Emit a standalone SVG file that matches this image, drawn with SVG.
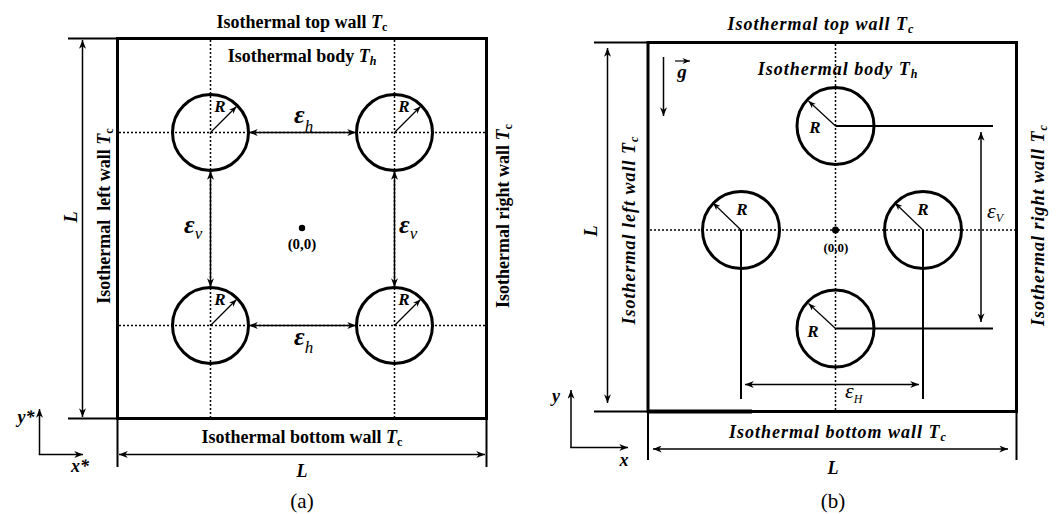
<svg xmlns="http://www.w3.org/2000/svg" width="1057" height="514" viewBox="0 0 1057 514">
<style>
  text { font-family: "Liberation Serif", "Times New Roman", serif; fill: #000; }
  .ta { font-size: 18px; font-weight: bold; text-anchor: middle; }
  .tb { font-size: 18px; font-weight: bold; font-style: italic; text-anchor: middle; letter-spacing: 1px; }
  .it { font-style: italic; }
  .sub { font-size: 12px; }
  .lab { font-size: 18px; font-weight: bold; font-style: italic; text-anchor: middle; }
  .rl { font-size: 17px; font-weight: bold; font-style: italic; text-anchor: middle; }
  .eps { font-size: 26px; font-weight: bold; font-style: italic; }
  .epsb { font-size: 22px; font-style: italic; }
  .cap { font-size: 21px; text-anchor: middle; }
  .wall { fill: none; stroke: #000; stroke-width: 3; }
  .ext { fill: none; stroke: #000; stroke-width: 2; }
  .dim { fill: none; stroke: #000; stroke-width: 1.5; }
  .dot { fill: none; stroke: #000; stroke-width: 1.5; stroke-dasharray: 2 2; }
  .cyl { fill: none; stroke: #000; stroke-width: 3; }
  .rad { fill: none; stroke: #000; stroke-width: 1.2; }
  .ref { fill: none; stroke: #000; stroke-width: 2; }
</style>
<defs>
  <marker id="ah" viewBox="0 0 10 8" refX="10" refY="4" markerWidth="9" markerHeight="7" markerUnits="userSpaceOnUse" orient="auto-start-reverse">
    <path d="M0,0 L10,4 L0,8 L3,4 z" fill="#000"/>
  </marker>
  <marker id="ahs" viewBox="0 0 10 8" refX="10" refY="4" markerWidth="8" markerHeight="6" markerUnits="userSpaceOnUse" orient="auto-start-reverse">
    <path d="M0,0 L10,4 L0,8 L3,4 z" fill="#000"/>
  </marker>
</defs>
<rect width="1057" height="514" fill="#fff"/>

<!-- ================= Panel (a) ================= -->
<g id="a-enclosure">
  <rect class="wall" x="117.5" y="38.5" width="369" height="380"/>
  <text class="ta" x="302" y="28">Isothermal top wall <tspan class="it">T</tspan><tspan class="sub" dy="3">c</tspan></text>
  <text class="ta" x="302" y="443">Isothermal bottom wall <tspan class="it">T</tspan><tspan class="sub" dy="3">c</tspan></text>
  <text class="ta" transform="translate(110,216) rotate(-90)" xml:space="preserve">Isothermal  left wall <tspan class="it">T</tspan><tspan class="sub" dy="3">c</tspan></text>
  <text class="ta" transform="translate(509,216) rotate(-90)">Isothermal right wall <tspan class="it">T</tspan><tspan class="sub" dy="3">c</tspan></text>
  <text class="ta" x="302" y="62">Isothermal body <tspan class="it">T</tspan><tspan class="sub it" dy="3">h</tspan></text>
</g>
<g id="a-guides">
  <line class="dot" x1="210.5" y1="40" x2="210.5" y2="417"/>
  <line class="dot" x1="394.5" y1="40" x2="394.5" y2="417"/>
  <line class="dot" x1="119" y1="132.5" x2="485" y2="132.5"/>
  <line class="dot" x1="119" y1="325.5" x2="485" y2="325.5"/>
</g>
<g id="a-cyl-tl">
  <circle class="cyl" cx="210.5" cy="132.5" r="38"/>
  <text class="rl" x="220" y="112">R</text>
</g>
<g id="a-cyl-tr">
  <circle class="cyl" cx="394.5" cy="132.5" r="38"/>
  <text class="rl" x="404" y="112">R</text>
</g>
<g id="a-cyl-bl">
  <circle class="cyl" cx="210.5" cy="325.5" r="38"/>
  <text class="rl" x="220" y="305">R</text>
</g>
<g id="a-cyl-br">
  <circle class="cyl" cx="394.5" cy="325.5" r="38"/>
  <text class="rl" x="404" y="305">R</text>
</g>
<g id="a-origin">
  <circle cx="302" cy="228" r="3.2" fill="#000"/>
  <text x="302" y="249" font-size="15" font-weight="bold" text-anchor="middle">(0,0)</text>
</g>
<g id="a-labels">
  <text class="eps" x="294" y="123">ε<tspan class="it" font-size="17" font-weight="normal" dy="9">h</tspan></text>
  <text class="eps" x="294" y="345">ε<tspan class="it" font-size="17" font-weight="normal" dy="8">h</tspan></text>
  <text class="eps" x="184" y="233">ε<tspan class="it" font-size="17" font-weight="normal" dy="6">v</tspan></text>
  <text class="eps" x="399" y="233">ε<tspan class="it" font-size="17" font-weight="normal" dy="6">v</tspan></text>
  <text class="lab" transform="translate(77,217) rotate(-90)">L</text>
  <text class="lab" x="302" y="477">L</text>
  <text class="lab" x="26" y="423">y*</text>
  <text class="lab" x="80" y="472">x*</text>
  <text class="cap" x="302" y="508">(a)</text>
</g>

<!-- ================= Panel (b) ================= -->
<g id="b-enclosure">
  <rect class="wall" x="648" y="42.5" width="368.5" height="369"/>
  <line x1="648" y1="411.5" x2="752" y2="411.5" stroke="#000" stroke-width="4"/>
  <text class="tb" x="821" y="30">Isothermal top wall T<tspan class="sub" dy="3">c</tspan></text>
  <text class="tb" x="838" y="438">Isothermal bottom wall T<tspan class="sub" dy="3">c</tspan></text>
  <text class="tb" transform="translate(635,230) rotate(-90)">Isothermal left wall T<tspan class="sub" dy="3">c</tspan></text>
  <text class="tb" transform="translate(1044,225) rotate(-90)">Isothermal right wall T<tspan class="sub" dy="3">c</tspan></text>
  <text class="tb" x="838" y="75">Isothermal body T<tspan class="sub" dy="3">h</tspan></text>
</g>
<g id="b-guides">
  <line class="dot" x1="835.5" y1="44" x2="835.5" y2="410"/>
  <line class="dot" x1="650" y1="230" x2="1015" y2="230"/>
</g>
<g id="b-cyl-top">
  <circle class="cyl" cx="835.5" cy="126" r="38.5"/>
  <text class="rl" x="815" y="133">R</text>
</g>
<g id="b-cyl-left">
  <circle class="cyl" cx="741" cy="230" r="38.5"/>
  <text class="rl" x="742" y="215">R</text>
</g>
<g id="b-cyl-right">
  <circle class="cyl" cx="923" cy="230" r="38.5"/>
  <text class="rl" x="923" y="215">R</text>
</g>
<g id="b-cyl-bottom">
  <circle class="cyl" cx="835.5" cy="328.5" r="38.5"/>
  <text class="rl" x="813" y="337">R</text>
</g>
<g id="b-origin">
  <circle cx="835.5" cy="230" r="3.5" fill="#000"/>
  <text x="836" y="252" font-size="13" font-weight="bold" text-anchor="middle">(0,0)</text>
</g>
<g id="b-labels">
  <text class="epsb" x="987" y="218">ε<tspan class="sub" font-size="13" dy="4">V</tspan></text>
  <text class="epsb" x="845" y="398">ε<tspan class="sub" font-size="13" dy="5">H</tspan></text>
  <text x="682" y="78" font-size="19" font-weight="bold" font-style="italic" text-anchor="middle">g</text>
  <text class="lab" transform="translate(597,231) rotate(-90)">L</text>
  <text class="lab" x="833" y="474">L</text>
  <text class="lab" x="556" y="402">y</text>
  <text class="lab" x="624" y="466">x</text>
  <text class="cap" x="833" y="508">(b)</text>
</g>

<!-- ================= Connectors ================= -->
<g id="connectors">
  <!-- panel a -->
  <line class="ext" x1="68" y1="38.5" x2="117.5" y2="38.5"/>
  <line class="ext" x1="68" y1="418.5" x2="117.5" y2="418.5"/>
  <line class="dim" x1="82.5" y1="40" x2="82.5" y2="417" marker-start="url(#ah)" marker-end="url(#ah)"/>
  <line class="ext" x1="117.5" y1="418.5" x2="117.5" y2="467"/>
  <line class="ext" x1="486.5" y1="418.5" x2="486.5" y2="467"/>
  <line class="dim" x1="119" y1="454.5" x2="485" y2="454.5" marker-start="url(#ah)" marker-end="url(#ah)"/>
  <line class="dim" x1="249" y1="132.5" x2="356" y2="132.5" marker-start="url(#ah)" marker-end="url(#ah)"/>
  <line class="dim" x1="249" y1="325.5" x2="356" y2="325.5" marker-start="url(#ah)" marker-end="url(#ah)"/>
  <line class="dim" x1="210.5" y1="171" x2="210.5" y2="287" marker-start="url(#ah)" marker-end="url(#ah)"/>
  <line class="dim" x1="394.5" y1="171" x2="394.5" y2="287" marker-start="url(#ah)" marker-end="url(#ah)"/>
  <line class="rad" x1="210.5" y1="132.5" x2="236.5" y2="106.5" marker-end="url(#ahs)"/>
  <line class="rad" x1="394.5" y1="132.5" x2="420.5" y2="106.5" marker-end="url(#ahs)"/>
  <line class="rad" x1="210.5" y1="325.5" x2="236.5" y2="299.5" marker-end="url(#ahs)"/>
  <line class="rad" x1="394.5" y1="325.5" x2="420.5" y2="299.5" marker-end="url(#ahs)"/>
  <line class="dim" x1="39.5" y1="455" x2="39.5" y2="409" marker-end="url(#ah)"/>
  <line class="dim" x1="38.8" y1="454.5" x2="83" y2="454.5" marker-end="url(#ah)"/>

  <!-- panel b -->
  <line class="ext" x1="594" y1="42.5" x2="648" y2="42.5"/>
  <line class="ext" x1="594" y1="411.5" x2="648" y2="411.5"/>
  <line class="dim" x1="607.5" y1="48" x2="607.5" y2="403" marker-start="url(#ah)" marker-end="url(#ah)"/>
  <line class="ext" x1="648" y1="411.5" x2="648" y2="460"/>
  <line class="ext" x1="1016.5" y1="411.5" x2="1016.5" y2="460"/>
  <line class="dim" x1="653" y1="449" x2="1008" y2="449" marker-start="url(#ah)" marker-end="url(#ah)"/>
  <line class="dim" x1="663.5" y1="57" x2="663.5" y2="116" marker-end="url(#ah)"/>
  <line x1="675" y1="61" x2="690" y2="61" stroke="#000" stroke-width="1.2" marker-end="url(#ahs)"/>
  <line class="ref" x1="835.5" y1="126" x2="993" y2="126"/>
  <line class="ref" x1="835.5" y1="328.5" x2="993" y2="328.5"/>
  <line class="ref" x1="741" y1="230" x2="741" y2="399"/>
  <line class="ref" x1="923" y1="230" x2="923" y2="399"/>
  <line class="dim" x1="981" y1="132" x2="981" y2="322" marker-start="url(#ah)" marker-end="url(#ah)"/>
  <line class="dim" x1="745" y1="384.5" x2="919" y2="384.5" marker-start="url(#ah)" marker-end="url(#ah)"/>
  <line class="rad" x1="835.5" y1="126" x2="808.5" y2="101" marker-end="url(#ahs)"/>
  <line class="rad" x1="741" y1="230" x2="713" y2="203" marker-end="url(#ahs)"/>
  <line class="rad" x1="923" y1="230" x2="895" y2="203" marker-end="url(#ahs)"/>
  <line class="rad" x1="835.5" y1="328.5" x2="808.5" y2="303.5" marker-end="url(#ahs)"/>
  <line class="dim" x1="571" y1="448" x2="571" y2="390" marker-end="url(#ah)"/>
  <line class="dim" x1="570.3" y1="447.5" x2="628" y2="447.5" marker-end="url(#ah)"/>
</g>
</svg>
